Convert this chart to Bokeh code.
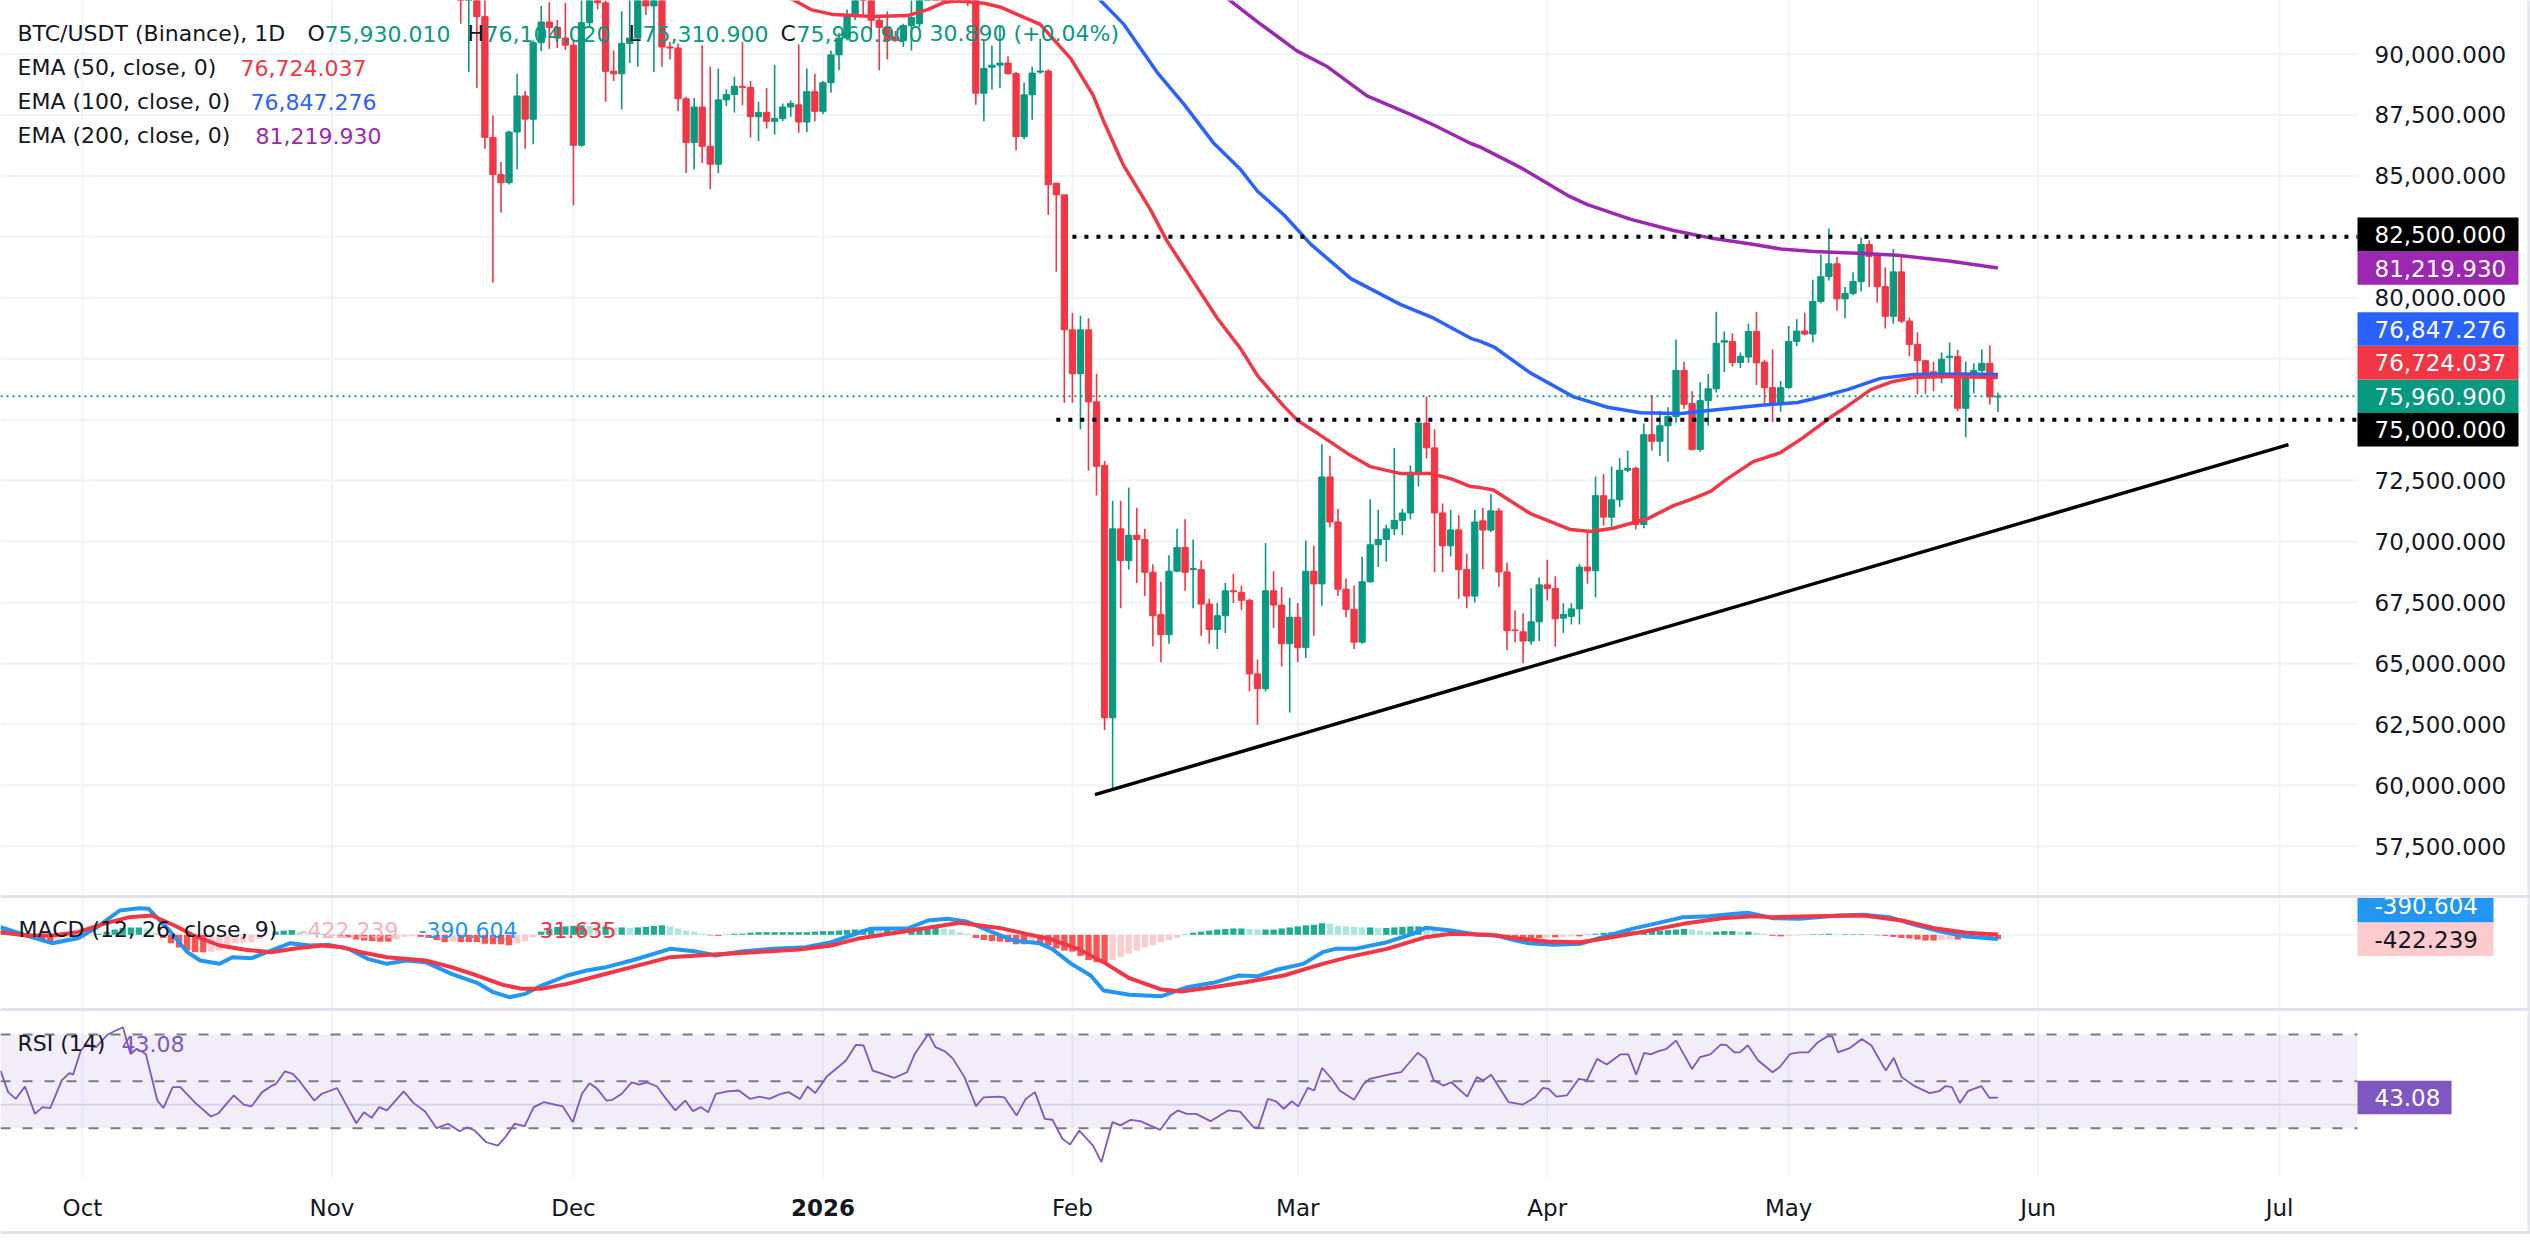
import numpy as np
import pandas as pd
from bokeh.plotting import figure
from bokeh.models import Range1d, ColumnDataSource
from bokeh.core.properties import value
from bokeh.embed import file_html
from bokeh.resources import INLINE

# Day numbers used for the curves below count from this date
ORIGIN = pd.Timestamp("2025-10-01")

# ---------------- BTC/USDT daily candles, 2025-11-17 .. 2026-05-27 ----------------
CANDLE_START = "2025-11-17"
opens = [
    94200, 92250, 92950, 91532, 86579, 85055, 84718, 86799, 88279, 87327,
    90462, 91312, 91092, 90653, 90360, 86257, 91283, 93450, 92100, 89290,
    89187, 90433, 90653, 92700, 91971, 92500, 90286, 90243, 88162, 86374,
    87825, 86213, 85480, 88118, 88338, 88675, 88631, 87429, 87605, 87239,
    87356, 87825, 87913, 87209, 88455, 87649, 88821, 89964, 90653, 91532,
    94000, 93300, 91385, 91092, 90700, 90550, 91165, 91239, 95400, 97000,
    95600, 95500, 95100, 93600, 92500, 88391, 89455, 89542, 89629, 89194,
    86610, 88326, 89259, 89303, 84699, 84221, 78684, 76881, 78684, 75730,
    73124, 62766, 70519, 69216, 70258, 70084, 68738, 67000, 66175, 68781,
    69759, 68846, 68846, 67434, 66392, 66956, 67978, 67913, 67587, 64568,
    63960, 67978, 67391, 65806, 66891, 65654, 68781, 68260, 72647, 70801,
    68043, 67217, 65871, 68347, 69867, 70084, 70519, 70866, 71170, 72755,
    74862, 73841, 71170, 69824, 70475, 68846, 67760, 70847, 70468, 71257,
    68753, 66370, 66294, 65915, 66704, 68222, 68070, 66856, 66931, 67235,
    68951, 68798, 71879, 70999, 71712, 72926, 73002, 70695, 74383, 74110,
    74748, 75127, 77024, 75659, 73776, 75780, 76265, 78177, 78208, 77343,
    77570, 78617, 77358, 76311, 75704, 76311, 78208, 78633, 78511, 79847,
    80863, 81394, 79953, 80181, 80666, 82184, 81728, 80454, 79240, 81061,
    79042, 78086, 77418, 76963, 76720, 77555, 77586, 75465, 76712, 77011,
    77311, 75930.01,
]
highs = [
    96000, 93800, 93100, 93100, 87473, 85568, 86850, 89187, 88484, 90550,
    91971, 92118, 91400, 92100, 90600, 92300, 94100, 94100, 92700, 90140,
    91751, 92300, 94600, 94400, 93500, 92800, 90506, 90433, 88250, 88191,
    90360, 89480, 89407, 88557, 89070, 90506, 88894, 88045, 88601, 89554,
    87971, 88088, 90389, 89407, 89187, 88894, 90140, 90872, 91825, 94700,
    94800, 93600, 91500, 91751, 90946, 91239, 92400, 96000, 97900, 97200,
    96000, 95600, 95400, 93700, 92800, 90562, 90345, 91105, 89911, 89259,
    88825, 89476, 90627, 89368, 84699, 84221, 79379, 79270, 79161, 76881,
    73298, 71670, 71670, 72212, 71387, 70519, 69063, 68347, 69433, 70519,
    70909, 70084, 69216, 67652, 67478, 68303, 68673, 68195, 67652, 65155,
    69932, 68781, 68130, 67695, 67478, 70041, 69824, 73993, 73515, 71344,
    68477, 68195, 69389, 71735, 71300, 70692, 73841, 71344, 73124, 75035,
    75947, 74601, 71561, 71300, 71083, 69498, 71300, 71378, 71940, 71378,
    69133, 67174, 67053, 68085, 68525, 69254, 68571, 67463, 67463, 69072,
    70392, 72669, 72775, 73078, 73427, 73731, 73078, 74839, 76007, 75355,
    75506, 78284, 77373, 76159, 76538, 76872, 79422, 78617, 78541, 77752,
    78936, 79422, 77449, 77874, 76584, 78845, 79118, 79391, 80742, 81774,
    82836, 81668, 80438, 81046, 82457, 82351, 81850, 81243, 82002, 81698,
    79194, 78587, 77418, 77373, 77752, 78162, 77860, 77381, 77311, 77873,
    78037, 76104.02,
]
lows = [
    91239, 89261, 88601, 86110, 80616, 83502, 84645, 85275, 86110, 86301,
    90110, 90213, 90250, 90169, 83796, 86200, 91100, 91825, 88045, 88895,
    87722, 89627, 89480, 91605, 89261, 89480, 89773, 87649, 85114, 85261,
    85524, 84455, 85114, 87869, 87605, 87898, 86579, 86433, 86946, 86697,
    87253, 87429, 86770, 86799, 87239, 87532, 88411, 89334, 90550, 91400,
    91532, 90872, 89334, 89773, 90506, 90286, 90140, 91100, 94800, 95000,
    94800, 94300, 92600, 91974, 87913, 87240, 88543, 88608, 89151, 86045,
    86501, 87305, 89194, 83396, 81072, 75687, 75687, 74601, 72907, 71887,
    62267, 59878, 67261, 68846, 68303, 67760, 65697, 65046, 65806, 68738,
    67978, 67261, 66131, 65806, 65589, 66240, 67478, 67174, 63852, 62484,
    63852, 66457, 64872, 62983, 65046, 65220, 66131, 67369, 70584, 67760,
    66891, 65589, 65806, 68303, 68955, 69172, 70258, 70258, 70909, 72256,
    73407, 68738, 68738, 69389, 67652, 67261, 67500, 68874, 70392, 68146,
    65535, 65869, 65004, 65763, 65915, 67584, 65687, 66249, 66598, 66598,
    68267, 67706, 70650, 70468, 71409, 72850, 70498, 70544, 73731, 73503,
    73276, 74869, 75446, 73731, 73685, 74748, 76113, 76948, 77176, 77115,
    77327, 76417, 75659, 74899, 75324, 76265, 78010, 78466, 78162, 79771,
    80712, 79468, 79164, 80105, 80256, 80438, 79801, 78739, 78936, 78966,
    77600, 76038, 76053, 76159, 76493, 76720, 75341, 74275, 76080, 76900,
    75617, 75310.9,
]
closes = [
    92250, 92950, 91532, 86579, 85055, 84718, 86799, 88279, 87327, 90462,
    91312, 91092, 90653, 90360, 86257, 91283, 93500, 92100, 89290, 89187,
    90433, 90653, 92700, 91971, 92500, 90286, 90243, 88162, 86374, 87825,
    86213, 85480, 88118, 88338, 88675, 88631, 87429, 87605, 87239, 87356,
    87825, 87971, 87209, 88455, 87649, 88821, 89964, 90653, 91532, 93900,
    93300, 91385, 91092, 90579, 90550, 91165, 91500, 95400, 97000, 95600,
    95500, 95100, 93600, 92500, 88391, 89411, 89542, 89629, 89194, 86610,
    88326, 89216, 89303, 84634, 84221, 78684, 76881, 78684, 75730, 73081,
    62766, 70519, 69216, 70258, 70084, 68738, 66956, 66175, 68781, 69759,
    68738, 68890, 67434, 66392, 66956, 67978, 67935, 67587, 64568, 63960,
    67978, 67391, 65806, 66891, 65654, 68781, 68260, 72647, 70801, 68043,
    67217, 65871, 68347, 69867, 70084, 70519, 70866, 71170, 72755, 74862,
    73841, 71170, 69824, 70475, 68846, 67760, 70800, 70468, 71257, 68753,
    66340, 66340, 65915, 66704, 68222, 68070, 66825, 67007, 67235, 68951,
    68798, 71879, 70999, 71712, 72926, 73002, 70695, 74383, 74110, 74748,
    75127, 77024, 75628, 73776, 75780, 76265, 78132, 78238, 77343, 77600,
    78617, 77327, 76311, 75704, 76311, 78208, 78633, 78511, 79847, 80863,
    81394, 79953, 80181, 80666, 82184, 81698, 80454, 79240, 81061, 79042,
    78086, 77418, 76720, 76720, 77479, 77600, 75465, 76737, 77011, 77311,
    75930, 75960.9,
]

# ---------------- moving averages: (day since ORIGIN, value) ----------------
ema50_pts = [
    (80, 93300), (88.3, 92230), (90.5, 91822), (93.3, 91617), (98.3, 91535),
    (102.5, 91576), (105, 91822), (107, 92110), (108.5, 92170), (110, 92140),
    (112, 92080), (114, 91930), (119, 91215), (122.8, 89812), (125.6, 88293),
    (126.9, 87227), (129.3, 85463), (132.7, 83617), (134.8, 82304), (138, 80683),
    (141, 79161), (143.9, 77914), (146, 76806), (149.2, 75575), (151, 74960),
    (153.5, 74427), (157.6, 73524), (160, 73073), (163.8, 72786), (167.5, 72786),
    (170, 72580), (172.5, 72252), (173.7, 72211), (175.3, 72109), (179.9, 71145),
    (184.9, 70489), (187.4, 70406), (190.2, 70546), (194.5, 70940), (197.7, 71474),
    (199.8, 71720), (202.3, 72060), (204.4, 72580), (207.6, 73278), (211, 73648),
    (213.8, 74263), (217.2, 75096), (219.3, 75551), (222.2, 76232), (224.7, 76540),
    (227.5, 76724), (231.7, 76765), (238, 76724.037),
]
ema100_pts = [
    (122, 93700), (126.5, 92191), (129.4, 91215), (133.5, 89258), (136.8, 87965),
    (140.6, 86324), (143.9, 85258), (146, 84371), (149.3, 83395), (152.6, 82201),
    (157.6, 80786), (163.8, 79719), (167.9, 79161), (172.5, 78336), (173.7, 78209),
    (175.4, 77979), (179.9, 76917), (185.3, 75932), (189.5, 75506), (193.6, 75280),
    (198.6, 75247), (202.7, 75399), (208.9, 75596), (213.1, 75703), (215.1, 75855),
    (219.3, 76232), (223.4, 76692), (227.5, 76847), (233.8, 76872), (238, 76847.276),
]
ema200_pts = [
    (137, 93550), (142.6, 92191), (146, 91321), (150.9, 90127), (154.7, 89475),
    (159.6, 88281), (165, 87522), (167.9, 87087), (172.5, 86328), (173.7, 86177),
    (178.7, 85340), (184.5, 84203), (187, 83822), (192.4, 83214), (197.7, 82759),
    (202.7, 82427), (207.7, 82181), (211, 82000), (215.1, 81893), (221.3, 81820),
    (225.5, 81742), (231.7, 81516), (238, 81219.93),
]

# ---------------- MACD (12, 26, close, 9) ----------------
macd_pts = [
    (-10.19, 725), (-6.99, -67), (-3.79, -795), (-0.58, -320), (1.82, 725),
    (4.62, 2308), (7.02, 2530), (8.22, 2467), (10.62, 567), (13.03, -1650),
    (14.62, -2442), (17.03, -2759), (18.63, -2125), (21.03, -2220), (23.43, -1492),
    (25.83, -795), (28.23, -1017), (30.63, -954), (33.03, -1334), (35.43, -2284),
    (37.83, -2759), (40.23, -2442), (42.63, -2600), (45.83, -3709), (49.03, -4564),
    (51.03, -5451), (53.03, -5926), (55.03, -5609), (57.03, -4818), (60.24, -3867),
    (62.64, -3392), (65.04, -3076), (68.24, -2442), (73.04, -1334), (76.24, -1587),
    (78.64, -1967), (81.84, -1587), (85.84, -1334), (89.84, -1175), (93.05, -700),
    (95.45, -67), (97.85, 567), (102.65, 630), (105.05, 1358), (107.45, 1517),
    (109.85, 1263), (113.05, 250), (115.67, -542), (118.87, -795), (120.47, -1334),
    (122.87, -2759), (125.27, -3867), (126.87, -5293), (130.08, -5704), (134.08, -5831),
    (137.28, -4976), (140.48, -4564), (143.68, -3867), (146.08, -3931), (148.48, -3297),
    (151.69, -2759), (154.09, -1650), (155.69, -1334), (158.09, -1334), (162.09, -700),
    (165.29, 91), (166.89, 661), (170.09, 408), (173.29, -4), (175.7, -67),
    (178.1, -542), (179.7, -795), (182.9, -954), (186.1, -858), (189.3, -130),
    (192.5, 567), (195.7, 1105), (198.9, 1675), (202.1, 1770), (205.3, 1992),
    (206.9, 2087), (210.1, 1580), (213.3, 1517), (218.1, 1833), (221.3, 1897),
    (224.5, 1675), (227.7, 946), (230.9, 313), (234.1, -162), (238, -390.604),
]
signal_pts = [
    (-10.19, 250), (-6.99, -67), (-3.79, -67), (-0.58, 250), (2.62, 1041),
    (5.82, 1675), (8.62, 1833), (11.42, 883), (13.83, -67), (17.03, -1017),
    (20.23, -1429), (23.43, -1650), (26.63, -1270), (29.83, -1017), (32.23, -1175),
    (34.63, -1650), (37.83, -2125), (42.63, -2442), (45.83, -3076), (49.03, -3867),
    (52.23, -4754), (54.63, -5134), (57.03, -5134), (60.24, -4659), (64.24, -3867),
    (68.24, -3076), (73.04, -2125), (77.84, -1904), (83.44, -1650), (89.04, -1397),
    (93.05, -1017), (96.25, -384), (100.25, 91), (104.25, 567), (109.05, 1136),
    (112.25, 820), (114.07, 630), (117.27, 91), (120.47, -447), (123.67, -1334),
    (126.87, -2600), (130.08, -4121), (134.08, -5198), (136.48, -5388), (140.48, -4976),
    (144.48, -4501), (149.28, -3867), (154.09, -2759), (157.29, -2125), (162.09, -1334),
    (166.89, -225), (170.09, 91), (174.9, -4), (178.1, -321), (182.1, -637),
    (186.1, -700), (189.3, -321), (194.1, 313), (198.9, 1041), (203.7, 1580),
    (207.7, 1770), (210.1, 1675), (214.9, 1770), (221.3, 1833), (226.1, 1358),
    (230.1, 630), (234.1, 187), (238, 31.635),
]
HIST_START = "2025-09-21"
hist = [
    475, 200, 20, -30, -250, -500, -730, -700, -600, -500,
    -450, -100, 100, 300, 500, 650, 700, 700, 600, 150,
    -300, -800, -1200, -1500, -1650, -1650, -1600, -1500, -1000, -800,
    -750, -700, -400, -50, 300, 400, 450, 250, 100, 50,
    50, -50, -100, -250, -450, -550, -600, -650, -650, -450,
    -200, -150, -200, -300, -500, -700, -650, -700, -700, -700,
    -850, -900, -900, -1000, -800, -600, -250, 300, 600, 750,
    800, 850, 900, 850, 800, 800, 700, 700, 650, 700,
    750, 850, 900, 800, 600, 400, 300, 100, -50, -100,
    20, 100, 100, 200, 250, 250, 250, 250, 250, 250,
    250, 300, 350, 350, 400, 450, 500, 500, 500, 450,
    500, 450, 350, 350, 500, 700, 700, 600, 500, 250,
    100, -300, -500, -600, -650, -700, -900, -900, -800, -900,
    -1000, -1300, -1500, -1600, -2000, -2400, -2600, -2700, -2400, -2100,
    -1800, -1500, -1200, -1000, -700, -500, -300, 30, 200, 300,
    400, 500, 550, 600, 600, 550, 500, 500, 500, 600,
    700, 800, 900, 950, 1100, 1050, 850, 800, 750, 700,
    700, 650, 650, 700, 750, 800, 800, 650, 500, 400,
    300, 200, 100, 20, -50, -100, -200, -250, -250, -300,
    -300, -300, -250, -250, -200, -150, -150, 30, 100, 200,
    250, 300, 350, 350, 350, 350, 400, 450, 500, 550,
    500, 400, 300, 300, 350, 350, 300, 300, 200, 100,
    -100, -150, -100, -50, 20, 50, 50, 100, 50, 50,
    50, 50, -20, -50, -100, -200, -300, -350, -450, -550,
    -550, -500, -450, -450, -350, -300, -300, -350, -422.239,
]

# ---------------- RSI (14) ----------------
rsi_pts = [
    (-10.19, 54.6), (-9.24, 45.4), (-8.29, 42.5), (-7.15, 47.8), (-5.91, 36.1),
    (-4.96, 39.0), (-4.01, 38.6), (-2.58, 50.4), (-1.63, 53.5), (-1.16, 52.9),
    (-0.21, 63.2), (0.46, 65.7), (1.69, 64.6), (3.12, 70.0), (5.02, 73.1),
    (5.97, 61.7), (6.73, 63.9), (7.87, 61.7), (9.3, 41.8), (10.06, 38.6),
    (11.2, 47.5), (12.15, 47.5), (14.05, 40.7), (15.95, 35.0), (16.9, 36.4),
    (18.8, 44.0), (20.04, 40.1), (20.99, 39.3), (22.32, 45.4), (23.56, 48.2),
    (24.03, 48.9), (25.17, 54.3), (26.13, 53.2), (26.89, 50.4), (28.79, 41.8),
    (29.74, 44.7), (31.64, 47.1), (34.02, 32.1), (34.97, 36.8), (35.92, 34.4),
    (36.87, 39.0), (37.82, 37.6), (39.91, 45.7), (41.15, 40.7), (42.57, 37.1),
    (44.0, 30.0), (45.42, 31.9), (46.85, 28.7), (47.8, 30.4), (48.75, 29.0),
    (50.18, 24.0), (51.6, 22.6), (52.55, 26.2), (53.69, 31.9), (54.93, 30.9),
    (56.07, 39.0), (57.31, 41.1), (59.68, 39.3), (60.92, 32.6), (62.06, 44.7),
    (63.01, 49.2), (63.96, 46.8), (65.1, 41.8), (65.86, 42.1), (67.0, 44.7),
    (68.24, 49.6), (69.19, 48.6), (70.14, 49.6), (71.38, 47.8), (72.52, 42.5),
    (73.66, 37.6), (74.89, 41.8), (75.85, 37.3), (76.8, 39.0), (77.75, 36.8),
    (78.7, 44.7), (80.12, 45.7), (81.55, 46.1), (82.97, 42.5), (84.12, 43.5),
    (85.35, 42.5), (86.78, 44.7), (87.73, 45.4), (89.15, 42.5), (90.1, 47.8),
    (91.05, 45.0), (92.48, 52.1), (93.91, 56.1), (94.86, 58.9), (96.1, 65.6),
    (97.05, 65.3), (98.19, 54.6), (99.14, 53.5), (100.85, 51.5), (102.46, 53.9),
    (103.41, 61.7), (105.12, 70.3), (105.98, 64.6), (107.22, 62.7), (108.17, 59.6),
    (109.59, 51.8), (111.02, 39.4), (111.97, 43.2), (113.87, 43.5), (114.54, 43.2),
    (116.06, 35.4), (117.2, 42.5), (118.34, 45.4), (119.57, 34.0), (120.52, 33.6),
    (121.76, 25.5), (122.71, 23.0), (123.85, 29.0), (125.57, 22.6), (126.6, 15.5),
    (127.98, 32.6), (128.97, 31.2), (130.25, 33.6), (131.44, 33.0), (132.63, 31.2),
    (133.92, 29.3), (135.21, 35.4), (136.1, 37.6), (137.19, 36.1), (138.38, 36.1),
    (140.16, 33.0), (142.34, 37.6), (143.83, 37.1), (145.51, 30.4), (146.1, 30.2),
    (147.29, 42.5), (148.28, 41.5), (149.27, 38.3), (150.26, 41.5), (151.06, 39.3),
    (152.25, 47.2), (153.04, 46.1), (154.03, 55.7), (155.22, 51.1), (156.21, 46.1),
    (157.99, 42.1), (159.18, 48.9), (159.97, 51.1), (162.65, 53.2), (163.84, 53.9),
    (165.92, 62.2), (166.91, 59.6), (167.9, 50.4), (169.09, 48.2), (170.08, 49.6),
    (172.06, 43.5), (173.25, 51.8), (174.04, 50.4), (175.03, 52.8), (176.02, 47.5),
    (177.21, 41.1), (178.99, 40.1), (180.48, 43.2), (181.47, 47.2), (182.16, 46.8),
    (183.15, 43.5), (184.44, 44.0), (185.93, 51.1), (186.92, 50.4), (188.2, 59.6),
    (189.39, 57.2), (191.08, 61.5), (192.07, 61.5), (193.06, 52.9), (194.05, 62.2),
    (194.84, 61.5), (195.83, 62.9), (196.82, 63.9), (198.01, 67.4), (199.99, 55.3),
    (200.98, 60.3), (202.27, 61.5), (203.56, 65.7), (204.25, 65.6), (205.24, 62.4),
    (205.93, 62.4), (206.93, 65.4), (208.21, 58.9), (209.99, 53.9), (210.89, 56.1),
    (212.18, 61.7), (213.36, 62.4), (214.45, 62.4), (215.64, 66.7), (216.83, 69.3),
    (217.43, 69.1), (218.12, 62.4), (219.6, 64.2), (221.09, 68.1), (222.28, 65.3),
    (224.06, 54.6), (225.05, 60.0), (226.04, 51.8), (227.53, 48.2), (229.51, 45.0),
    (230.7, 45.8), (231.49, 48.0), (232.28, 47.5), (233.27, 40.7), (234.26, 45.8),
    (235.94, 48.0), (236.93, 43.0), (238, 43.08),
]

# ---------------- readouts and drawings ----------------
SYMBOL = "BTC/USDT (Binance), 1D"
LAST_OHLC = (75930.010, 76104.020, 75310.900, 75960.900)
LAST_CHANGE, LAST_PCT = 30.890, 0.04
EMA_LAST = {50: 76724.037, 100: 76847.276, 200: 81219.930}
MACD_HIST_LAST, MACD_LAST, SIGNAL_LAST = -422.239, -390.604, 31.635
RSI_LAST = 43.08
LEVELS = [(82500.0, "2026-02-01"), (75000.0, "2026-01-30")]
trend_day = [125.8, 274.1]
trend_price = [59617, 73975]
price_ticks = list(range(57500, 92500, 2500))

# ---------------- geometry of the canvas ----------------
W, H = 2530, 1253
FRAME_H = H
PANES_BOTTOM = 1177       # time scale below this
TIME_Y = 1207
BOTTOM_RULE = 1232
SCALE_X = 2357            # left edge of the price scale
PX_PER_DAY = 8.048
DAY0_PX = 82.0            # x of 2025-10-01
PX_PER_USD = 0.024375
PRICE_TOP = 90000 + 53.5 / PX_PER_USD
PRICE_BOTTOM = PRICE_TOP - FRAME_H / PX_PER_USD
MACD_ZERO_PX, MACD_PER_PX = 934.3, 95.0
RSI70_PX, RSI_PX_PER_PT = 1034.0, 2.3425
PANE_SEPS = [896, 1009]

FONT = "DejaVu Sans"
TXT = "22px"
SCALE_TXT = "23px"
INK = "#131722"
UP, DOWN = "#089981", "#f23645"
GRID = "#f0f3fa"
SEP = "#e0e3eb"


def day_of(ts):
    return (pd.Timestamp(ts) - ORIGIN) / pd.Timedelta(days=1)


def price_px(v):
    return (PRICE_TOP - v) * PX_PER_USD


x_left = -DAY0_PX / PX_PER_DAY
x_right = x_left + W / PX_PER_DAY
scale_day = x_left + SCALE_X / PX_PER_DAY

p = figure(width=W, height=H, x_range=Range1d(x_left, x_right),
           y_range=Range1d(PRICE_BOTTOM, PRICE_TOP),
           output_backend="svg", toolbar_location=None,
           x_axis_location=None, y_axis_location=None,
           min_border_left=0, min_border_right=0, min_border_top=0, min_border_bottom=0)
p.extra_x_ranges = {"px": Range1d(0, W)}
p.extra_y_ranges = {
    "px": Range1d(FRAME_H, 0),
    "macd": Range1d(-(FRAME_H - MACD_ZERO_PX) * MACD_PER_PX, MACD_ZERO_PX * MACD_PER_PX),
    "rsi": Range1d(70 - (FRAME_H - RSI70_PX) / RSI_PX_PER_PT, 70 + RSI70_PX / RSI_PX_PER_PT),
}
p.outline_line_color = None
p.grid.visible = False
p.background_fill_color = "white"
p.border_fill_color = "white"

months = pd.date_range("2025-10-01", "2026-07-01", freq="MS")
month_days = [day_of(m) for m in months]

# ---- grid and pane frames ----
p.segment(x0=month_days, x1=month_days, y0=[0] * len(month_days),
          y1=[PANES_BOTTOM] * len(month_days), y_range_name="px", line_color=GRID, line_width=2)
p.segment(x0=[0] * len(price_ticks), x1=[SCALE_X] * len(price_ticks), y0=price_ticks, y1=price_ticks,
          x_range_name="px", line_color=GRID, line_width=2)
p.segment(x0=[0], x1=[SCALE_X], y0=[0], y1=[0], x_range_name="px", y_range_name="macd",
          line_color=GRID, line_width=2)
p.segment(x0=[0], x1=[SCALE_X], y0=[40], y1=[40], x_range_name="px", y_range_name="rsi",
          line_color=SEP, line_width=2)
p.segment(x0=[0] * 3, x1=[W] * 3, y0=PANE_SEPS + [BOTTOM_RULE], y1=PANE_SEPS + [BOTTOM_RULE],
          x_range_name="px", y_range_name="px", line_color=SEP, line_width=3)
p.segment(x0=[W - 2], x1=[W - 2], y0=[0], y1=[BOTTOM_RULE], x_range_name="px", y_range_name="px",
          line_color=SEP, line_width=2)

# ---- candles ----
cd = pd.date_range(CANDLE_START, periods=len(opens), freq="D")
cday = np.array([day_of(t) for t in cd])
o, hi, lo, c = map(np.asarray, (opens, highs, lows, closes))
rising = c >= o
cs = ColumnDataSource(dict(x=cday, hi=hi, lo=lo, top=np.maximum(o, c), bot=np.minimum(o, c),
                           col=np.where(rising, UP, DOWN)))
p.segment(x0="x", x1="x", y0="lo", y1="hi", source=cs, line_color="col", line_width=1.6)
p.vbar(x="x", width=0.78, top="top", bottom="bot", source=cs, fill_color="col", line_color="col",
       line_width=1)

# ---- moving averages ----
for pts, col in ((ema200_pts, "#9c27b0"), (ema100_pts, "#2962ff"), (ema50_pts, "#f23645")):
    xs, ys = zip(*pts)
    p.line(list(xs), list(ys), line_color=col, line_width=3.5)

# ---- drawings: levels, trend line, last price ----
for lvl, start in LEVELS:
    p.segment(x0=[day_of(start)], x1=[scale_day], y0=[lvl], y1=[lvl], line_color="black",
              line_width=4, line_dash="4 8")
p.line(trend_day, trend_price, line_color="black", line_width=3.5)
p.segment(x0=[x_left], x1=[scale_day], y0=[LAST_OHLC[3]], y1=[LAST_OHLC[3]], line_color=UP,
          line_width=2, line_dash="2 4")

# ---- MACD pane ----
hd = pd.date_range(HIST_START, periods=len(hist), freq="D")
hday = [day_of(t) for t in hd]
hcol, prev = [], None
for v in hist:
    if v >= 0:
        hcol.append("#22ab94" if prev is None or v >= prev else "#ace5dc")
    else:
        hcol.append("#ff5252" if prev is None or v <= prev else "#fccbcd")
    prev = v
p.vbar(x=hday, width=0.78, top=hist, bottom=0, fill_color=hcol, line_color=None, y_range_name="macd")
for pts, col in ((macd_pts, "#2196f3"), (signal_pts, "#f23645")):
    xs, ys = zip(*pts)
    p.line(list(xs), list(ys), line_color=col, line_width=4, y_range_name="macd")

# ---- RSI pane ----
p.quad(left=[0], right=[SCALE_X], bottom=[30], top=[70], x_range_name="px", y_range_name="rsi",
       fill_color="#7e57c2", fill_alpha=0.1, line_color=None)
for lv in (70, 50, 30):
    p.segment(x0=[0], x1=[SCALE_X], y0=[lv], y1=[lv], x_range_name="px", y_range_name="rsi",
              line_color="#787b86", line_width=2, line_dash="10 12")
rx, ry = zip(*rsi_pts)
p.line(list(rx), list(ry), line_color="#7e57c2", line_width=1.8, y_range_name="rsi")


# ---- text helpers ----
def px_text(x, y, s, color=INK, size=TXT, style="normal"):
    p.text(x=[x], y=[y], text=[s], x_range_name="px", y_range_name="px", text_color=color,
           text_font=value(FONT), text_font_size=value(size), text_align="left",
           text_baseline="middle", text_font_style=style)


def fmt(v):
    return f"{v:,.3f}"


# ---- time scale (month names, the year at January) ----
for d, m in zip(month_days, months):
    jan = m.month == 1
    p.text(x=[d], y=[TIME_Y], text=[str(m.year) if jan else m.strftime("%b")], y_range_name="px",
           text_color=INK, text_font=value(FONT), text_font_size=value(SCALE_TXT),
           text_font_style="bold" if jan else "normal", text_align="center",
           text_baseline="middle")

# legend rows
px_text(17, 33, SYMBOL)
for letter, val, lx, vx in zip("OHLC", LAST_OHLC, (307, 467, 628, 780), (324, 484, 642, 796)):
    px_text(lx, 33, letter)
    px_text(vx, 33, fmt(val), UP)
px_text(929, 33, f"{LAST_CHANGE:.3f} (+{LAST_PCT:.2f}%)", UP)
for (n, col, vx), yy in zip(((50, "#f23645", 240), (100, "#2962ff", 250), (200, "#9c27b0", 255)),
                           (67, 101, 135)):
    px_text(17, yy, f"EMA ({n}, close, 0)")
    px_text(vx, yy, fmt(EMA_LAST[n]), col)
px_text(18, 929, "MACD (12, 26, close, 9)")
px_text(299, 929, fmt(MACD_HIST_LAST), "#f7b3b9")
px_text(418, 929, fmt(MACD_LAST), "#2196f3")
px_text(539, 929, fmt(SIGNAL_LAST), "#f23645")
px_text(17, 1043, "RSI (14)")
px_text(121, 1043, f"{RSI_LAST:.2f}", "#7e57c2")

# ---- price scale: value tags stacked around the last price ----
BOX_H = 33.6
LABEL_X = 2374
tags = [(LAST_OHLC[3], UP, "white"), (EMA_LAST[50], "#f23645", "white"),
        (EMA_LAST[100], "#2962ff", "white"), (EMA_LAST[200], "#9c27b0", "white")]
tags += [(lvl, "black", "white") for lvl, _ in LEVELS]
anchor = price_px(LAST_OHLC[3])
placed = [(anchor, tags[0])]
above = sorted([t for t in tags[1:] if t[0] > LAST_OHLC[3]], key=lambda t: t[0])
below = sorted([t for t in tags[1:] if t[0] < LAST_OHLC[3]], key=lambda t: -t[0])
cur = anchor
for t in above:
    cur = min(price_px(t[0]), cur - BOX_H)
    placed.append((cur, t))
cur = anchor
for t in below:
    cur = max(price_px(t[0]), cur + BOX_H)
    placed.append((cur, t))

for tk in price_ticks:
    ty = price_px(tk)
    if 0 < ty < PANE_SEPS[0] - 10 and all(abs(ty - yc) > 27 for yc, _ in placed):
        px_text(LABEL_X, ty, fmt(tk), size=SCALE_TXT)
for yc, (v, bg, fg) in placed:
    p.quad(left=[SCALE_X], right=[2518], top=[yc - BOX_H / 2], bottom=[yc + BOX_H / 2],
           x_range_name="px", y_range_name="px", fill_color=bg, line_color=None)
    px_text(LABEL_X, yc, fmt(v), fg, size=SCALE_TXT)

# MACD pane tags: histogram anchored, MACD pushed above it
hist_y = MACD_ZERO_PX - MACD_HIST_LAST / MACD_PER_PX
macd_y = min(MACD_ZERO_PX - MACD_LAST / MACD_PER_PX, hist_y - BOX_H)
p.quad(left=[SCALE_X], right=[2493], top=[max(macd_y - BOX_H / 2, PANE_SEPS[0] + 1.5)],
       bottom=[macd_y + BOX_H / 2], x_range_name="px", y_range_name="px", fill_color="#2196f3",
       line_color=None)
px_text(LABEL_X, macd_y, fmt(MACD_LAST), "white", size=SCALE_TXT)
p.quad(left=[SCALE_X], right=[2493], top=[hist_y - BOX_H / 2], bottom=[hist_y + BOX_H / 2],
       x_range_name="px", y_range_name="px", fill_color="#fccbcd", line_color=None)
px_text(LABEL_X, hist_y, fmt(MACD_HIST_LAST), INK, size=SCALE_TXT)

# RSI tag
rsi_y = RSI70_PX + (70 - RSI_LAST) * RSI_PX_PER_PT
p.quad(left=[SCALE_X], right=[2451], top=[rsi_y - BOX_H / 2], bottom=[rsi_y + BOX_H / 2],
       x_range_name="px", y_range_name="px", fill_color="#7e57c2", line_color=None)
px_text(LABEL_X, rsi_y, f"{RSI_LAST:.2f}", "white", size=SCALE_TXT)

open("out.html", "w").write(file_html(p, INLINE))
